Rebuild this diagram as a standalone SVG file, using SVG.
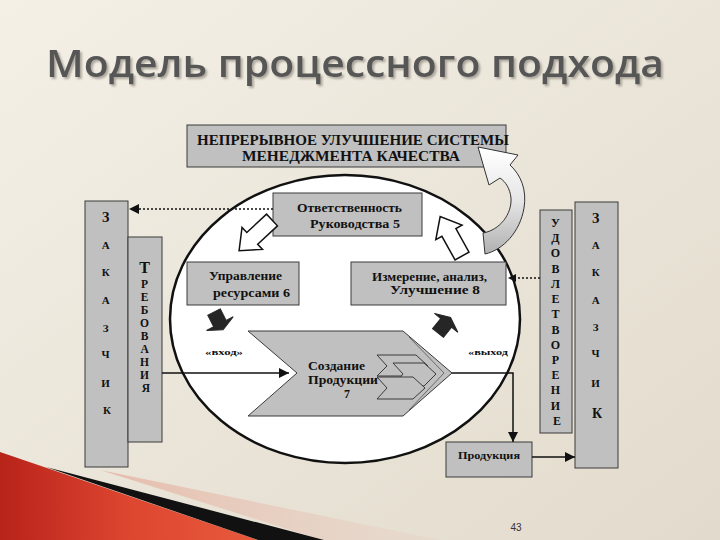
<svg xmlns="http://www.w3.org/2000/svg" width="720" height="540" viewBox="0 0 720 540">
<defs>
<linearGradient id="bg" x1="0" y1="0" x2="1" y2="1">
<stop offset="0" stop-color="#f4f0e6"/>
<stop offset="1" stop-color="#e2dbcd"/>
</linearGradient>
<linearGradient id="red" x1="0" y1="0" x2="1" y2="0">
<stop offset="0" stop-color="#b8231a"/>
<stop offset="0.5" stop-color="#dd4630"/>
<stop offset="1" stop-color="#e85a3c"/>
</linearGradient>
<linearGradient id="pink" x1="0" y1="0" x2="1" y2="0">
<stop offset="0" stop-color="#e6b7a6" stop-opacity="0.9"/>
<stop offset="1" stop-color="#e6c8bb" stop-opacity="0.2"/>
</linearGradient>
<linearGradient id="curve" gradientUnits="userSpaceOnUse" x1="0" y1="150" x2="0" y2="250">
<stop offset="0" stop-color="#ffffff"/>
<stop offset="0.5" stop-color="#e6e6e6"/>
<stop offset="1" stop-color="#b4b4b4"/>
</linearGradient>
<filter id="shadow" x="-5%" y="-20%" width="110%" height="150%">
<feGaussianBlur in="SourceAlpha" stdDeviation="1"/>
<feOffset dx="2" dy="2" result="off"/>
<feFlood flood-color="#9a948a" flood-opacity="0.8"/>
<feComposite in2="off" operator="in" result="sh"/>
<feMerge><feMergeNode in="sh"/><feMergeNode in="SourceGraphic"/></feMerge>
</filter>
<marker id="ah" viewBox="0 0 10 10" refX="10" refY="5" markerWidth="12" markerHeight="10" markerUnits="userSpaceOnUse" orient="auto">
<path d="M0,0 L10,5 L0,10 z" fill="#111"/>
</marker>
<marker id="ahs" viewBox="0 0 10 10" refX="10" refY="5" markerWidth="10" markerHeight="8" markerUnits="userSpaceOnUse" orient="auto">
<path d="M0,0 L10,5 L0,10 z" fill="#111"/>
</marker>
<style>
.box{fill:#c0c0c0;stroke:#3a3a3a;stroke-width:1}
.t{font-family:"Liberation Serif","Times New Roman",serif;font-weight:bold;fill:#111}
.warr{fill:#fff;stroke:#111;stroke-width:1.5}
.darr{fill:#262626;stroke:#262626;stroke-width:1}
.ln{fill:none;stroke:#111;stroke-width:1.5}
.dot{fill:none;stroke:#111;stroke-width:1.5;stroke-dasharray:2 2}
</style>
</defs>

<rect x="0" y="0" width="720" height="540" fill="url(#bg)"/>

<g id="decor">
<polygon points="0,452 258,540 0,540" fill="url(#red)"/>
<polygon points="100,470 440,540 322,540" fill="url(#pink)"/>
<polygon points="46,467 324,540 258,540" fill="#111"/>
</g>

<g id="title">
<text x="46" y="77" font-family="'Open Sans','DejaVu Sans',sans-serif" font-weight="600" font-size="37" fill="#575757" textLength="618" lengthAdjust="spacingAndGlyphs" filter="url(#shadow)">Модель процессного подхода</text>
</g>

<g id="improvement">
<rect class="box" x="187" y="125" width="319" height="42"/>
<text class="t" font-size="14.5" x="197" y="145" textLength="312" lengthAdjust="spacingAndGlyphs">НЕПРЕРЫВНОЕ УЛУЧШЕНИЕ СИСТЕМЫ</text>
<text class="t" font-size="14.5" x="242" y="161" textLength="218" lengthAdjust="spacingAndGlyphs">МЕНЕДЖМЕНТА КАЧЕСТВА</text>
</g>

<g id="customer-left">
<rect class="box" x="85" y="201" width="43" height="266"/>
<text class="t" font-size="11" text-anchor="middle">
<tspan x="107" y="222" font-size="14">З</tspan>
<tspan x="107" y="249">А</tspan>
<tspan x="107" y="276">К</tspan>
<tspan x="107" y="304">А</tspan>
<tspan x="107" y="332">З</tspan>
<tspan x="107" y="358">Ч</tspan>
<tspan x="107" y="387">И</tspan>
<tspan x="107" y="414">К</tspan>
</text>
</g>

<g id="requirements">
<rect class="box" x="128" y="237" width="34" height="205"/>
<text class="t" font-size="11.5" text-anchor="middle">
<tspan x="146" y="273" font-size="16">Т</tspan>
<tspan x="146" y="288">Р</tspan>
<tspan x="146" y="301">Е</tspan>
<tspan x="146" y="314">Б</tspan>
<tspan x="146" y="327">О</tspan>
<tspan x="146" y="340">В</tspan>
<tspan x="146" y="353">А</tspan>
<tspan x="146" y="366">Н</tspan>
<tspan x="146" y="379">И</tspan>
<tspan x="146" y="392">Я</tspan>
</text>
</g>

<g id="process-ellipse">
<ellipse cx="345" cy="319" rx="175" ry="144" fill="#fff" stroke="#111" stroke-width="2.5"/>
</g>

<g id="management">
<rect class="box" x="273" y="193" width="149" height="43"/>
<text class="t" font-size="12" x="297" y="212" textLength="105" lengthAdjust="spacingAndGlyphs">Ответственность</text>
<text class="t" font-size="12" x="310" y="228" textLength="90" lengthAdjust="spacingAndGlyphs">Руководства  5</text>
</g>

<g id="resources">
<rect class="box" x="187" y="262" width="112" height="43"/>
<text class="t" font-size="12" x="209" y="280" textLength="73" lengthAdjust="spacingAndGlyphs">Управление</text>
<text class="t" font-size="12" x="213" y="297" textLength="77" lengthAdjust="spacingAndGlyphs">ресурсами  6</text>
</g>

<g id="measurement">
<rect class="box" x="351" y="262" width="155" height="43"/>
<text class="t" font-size="12" x="372" y="281" textLength="115" lengthAdjust="spacingAndGlyphs">Измерение, анализ,</text>
<text class="t" font-size="12" x="390" y="294" textLength="90" lengthAdjust="spacingAndGlyphs">Улучшение  8</text>
</g>

<g id="realization">
<polygon class="box" points="248,331 403,331 452,373 403,416 248,416 297,373" stroke="#222"/>
<polyline points="409,337 444,373 409,410" fill="none" stroke="#555" stroke-width="0.8"/>
<polygon class="box" points="377,355 416,355 428,366 416,376 377,376 387,366" stroke="#222"/>
<polygon class="box" points="393,363 424,363 436,374 424,386 393,386 403,374" stroke="#222"/>
<polygon class="box" points="377,377 413,377 425,388 413,399 377,399 387,388" stroke="#222"/>
<text class="t" font-size="13" x="308" y="370" textLength="57" lengthAdjust="spacingAndGlyphs">Создание</text>
<text class="t" font-size="13" x="308" y="384" textLength="70" lengthAdjust="spacingAndGlyphs">Продукции</text>
<text class="t" font-size="12" x="347" y="398" text-anchor="middle">7</text>
</g>

<g id="flow-arrows">
<polygon class="warr" transform="translate(272,220) rotate(137)" points="0,-8 27,-8 27,-15 45,0 27,15 27,8 0,8"/>
<polygon class="warr" transform="translate(462,256) rotate(-119)" points="0,-8 27,-8 27,-15 45,0 27,15 27,8 0,8"/>
<polygon class="darr" transform="translate(214,312) rotate(63)" points="0,-7 13,-7 13,-15 20,0 13,15 13,7 0,7"/>
<polygon class="darr" transform="translate(438,333) rotate(-51)" points="0,-7 13,-7 13,-15 20,0 13,15 13,7 0,7"/>
</g>

<g id="labels">
<text class="t" font-size="9" font-weight="normal" x="205" y="355" textLength="38" lengthAdjust="spacingAndGlyphs">«вход»</text>
<text class="t" font-size="9" font-weight="normal" x="468" y="355" textLength="40" lengthAdjust="spacingAndGlyphs">«выход</text>
</g>

<g id="satisfaction">
<rect class="box" x="540" y="210" width="32" height="223"/>
<text class="t" font-size="12" text-anchor="middle">
<tspan x="557" y="227">У</tspan>
<tspan x="557" y="242">Д</tspan>
<tspan x="557" y="257">О</tspan>
<tspan x="557" y="273">В</tspan>
<tspan x="557" y="288">Л</tspan>
<tspan x="557" y="303">Е</tspan>
<tspan x="557" y="318">Т</tspan>
<tspan x="557" y="334">В</tspan>
<tspan x="557" y="349">О</tspan>
<tspan x="557" y="364">Р</tspan>
<tspan x="557" y="379">Е</tspan>
<tspan x="557" y="394">Н</tspan>
<tspan x="557" y="410">И</tspan>
<tspan x="557" y="425">Е</tspan>
</text>
</g>

<g id="customer-right">
<rect class="box" x="575" y="202" width="43" height="266"/>
<text class="t" font-size="11" text-anchor="middle">
<tspan x="597" y="223" font-size="14">З</tspan>
<tspan x="597" y="249">А</tspan>
<tspan x="597" y="276">К</tspan>
<tspan x="597" y="304">А</tspan>
<tspan x="597" y="331">З</tspan>
<tspan x="597" y="357">Ч</tspan>
<tspan x="597" y="387">И</tspan>
<tspan x="597" y="418" font-size="14">К</tspan>
</text>
</g>

<g id="product">
<rect class="box" x="446" y="442" width="86" height="35"/>
<text class="t" font-size="11" x="458" y="459" textLength="62" lengthAdjust="spacingAndGlyphs">Продукция</text>
</g>

<g id="improvement-arrow">
<path d="M483,233 C500,230 512,214 511,198 C510,189 506,182 500,178 L489,185 L478,147 L518,155 L510,165 C521,175 527,190 524,208 C520,232 503,250 485,254 Z" fill="url(#curve)" stroke="#333" stroke-width="1"/>
</g>

<g id="connectors">
<line class="dot" x1="273" y1="209" x2="129" y2="209" marker-end="url(#ah)"/>
<line class="dot" x1="540" y1="278" x2="508" y2="278" marker-end="url(#ahs)"/>
<line class="ln" x1="162" y1="373" x2="289" y2="373" marker-end="url(#ah)"/>
<polyline class="ln" points="452,373 513,373 513,442" marker-end="url(#ah)"/>
<line class="ln" x1="532" y1="457" x2="575" y2="457" marker-end="url(#ah)"/>
</g>

<g id="page">
<text x="516" y="531" font-family="'Liberation Sans',Arial,sans-serif" font-size="10" fill="#333" text-anchor="middle">43</text>
</g>
</svg>
